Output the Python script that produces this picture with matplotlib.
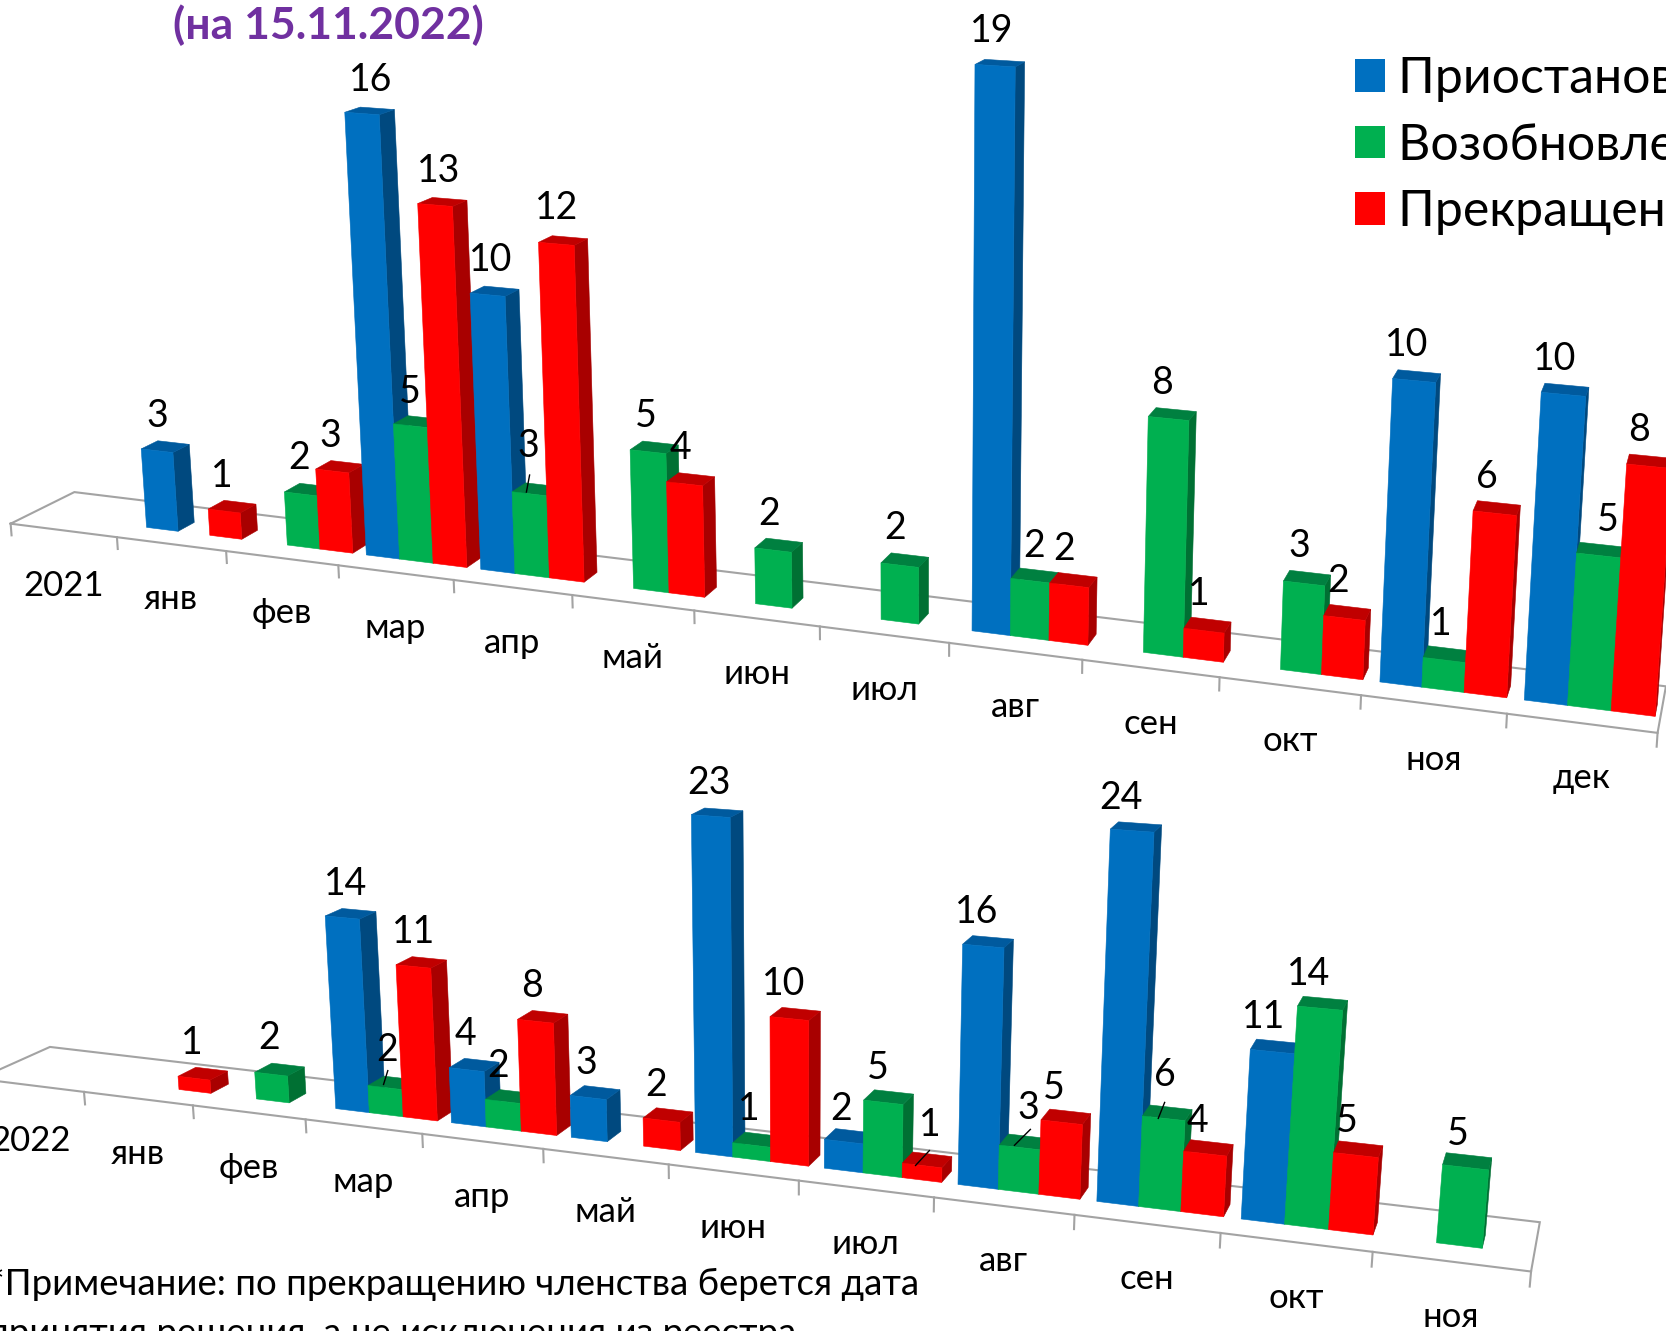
import numpy as np
import matplotlib
matplotlib.use("Agg")
import matplotlib.pyplot as plt
from matplotlib.patches import Patch

FONT = ['Lato', 'Open Sans', 'DejaVu Sans']
plt.rcParams['font.family'] = FONT

# ---------- data ----------
SERIES = ['Приостановление членства', 'Возобновление членства', 'Прекращение членства']
CATS_2021 = ['2021', 'янв', 'фев', 'мар', 'апр', 'май', 'июн', 'июл', 'авг', 'сен', 'окт', 'ноя', 'дек']
BLUE_2021 = [0, 3, 0, 16, 10, 0, 0, 0, 19, 0, 0, 10, 10]
GREEN_2021 = [0, 0, 2, 5, 3, 5, 2, 2, 2, 8, 3, 1, 5]
RED_2021 = [0, 1, 3, 13, 12, 4, 0, 0, 2, 1, 2, 6, 8]
CATS_2022 = ['2022', 'янв', 'фев', 'мар', 'апр', 'май', 'июн', 'июл', 'авг', 'сен', 'окт', 'ноя']
BLUE_2022 = [0, 0, 0, 14, 4, 3, 23, 2, 16, 24, 11, 0]
GREEN_2022 = [0, 0, 2, 2, 2, 0, 1, 5, 3, 6, 14, 5]
RED_2022 = [0, 1, 0, 11, 8, 2, 10, 1, 5, 4, 5, 0]
TITLE = '(на 15.11.2022)'
NOTE_1 = '*Примечание: по прекращению членства берется дата'
NOTE_2 = 'принятия решения, а не исключения из реестра'

# ---------- style ----------
FACE = ['#0070C0', '#00B050', '#FF0000']
SIDE = ['#00497F', '#007033', '#A80000']
TOP = ['#005A9E', '#008040', '#C00000']
GREY = '#A3A3A3'
W, H = 1568, 1253   # canvas units


class Camera:
    """Perspective projection of (category u, depth d, value z) on the canvas."""

    def __init__(self, origin, vu, a, vd, b, vz, c):
        self.o = np.array([*origin, 1.0])
        self.u = a * np.array([*vu, 1.0])
        self.d = b * np.array([*vd, 1.0])
        self.z = c * np.array([*vz, 1.0])

    def __call__(self, u, d, z):
        h = self.o + u * self.u + d * self.d + z * self.z
        return h[0] / h[2], h[1] / h[2]


def bar3d(ax, cam, u0, u1, z, k):
    d0, d1 = 0.33, 0.60
    p = lambda u, d, v: cam(u, d, v)
    faces = [
        ([p(u1, d0, 0), p(u1, d1, 0), p(u1, d1, z), p(u1, d0, z)], SIDE[k]),
        ([p(u0, d0, z), p(u1, d0, z), p(u1, d1, z), p(u0, d1, z)], TOP[k]),
        ([p(u0, d0, 0), p(u1, d0, 0), p(u1, d0, z), p(u0, d0, z)], FACE[k]),
    ]
    for pts, col in faces:
        xs, ys = zip(*pts)
        ax.fill(xs, ys, facecolor=col, edgecolor=col, linewidth=0.4)


def chart(ax, cam, cats, rows, tick_z, offsets, leaders):
    n = len(cats)
    floor = [cam(0, 0, 0), cam(n, 0, 0), cam(n, 1, 0), cam(0, 1, 0), cam(0, 0, 0)]
    xs, ys = zip(*floor)
    ax.plot(xs, ys, color=GREY, lw=1.5, solid_joinstyle='miter', zorder=1)
    for u in range(n + 1):
        (x0, y0), (x1, y1) = cam(u, 0, 0), cam(u, 0, -tick_z)
        ax.plot([x0, x1], [y0, y1], color=GREY, lw=1.5, zorder=1)
    for u, name in enumerate(cats):
        x, y = cam(u + 0.5, 0, 0)
        ax.text(x, y + 52, name, fontsize=25, ha='center', va='center', color='black')
    gap, lab_gap, slot = 0.085, 0.06, 0.88 / 3
    for u in range(n):
        for k in range(3):
            v = rows[k][u]
            if not v:
                continue
            a, b = u + gap + k * slot, u + gap + (k + 1) * slot
            bar3d(ax, cam, a, b, v, k)
    for u in range(n):
        for k in range(3):
            v = rows[k][u]
            if not v:
                continue
            a, b = u + lab_gap + k * slot, u + lab_gap + (k + 1) * slot
            fx = (cam(a, 0.385, v)[0] + cam(b, 0.385, v)[0]) / 2
            by = cam((a + b) / 2, 0.615, v)[1]
            dx, dy = offsets.get((k, u), (0, 0))
            ax.text(fx + dx, by - 24 + dy, str(v), fontsize=27, ha='center',
                    va='center', color='black', zorder=20)
            if (k, u) in leaders:
                cx, cy = cam((a + b) / 2, 0.5, v)
                bx, by2, vx, vy = leaders[(k, u)]
                ax.plot([cx + bx, cx + bx + vx], [cy + by2, cy + by2 + vy], color='black', lw=1.0, zorder=21)


cam21 = Camera((10, 493), (-7452, -455), -0.172 / 13, (1750, -370), 0.0357, (860, 11100), -0.0023)
cam22 = Camera((-20, 1015.6), (-5864, 290), -0.2 / 12, (1602, 289), 0.0431, (750, 8935), -0.001545)

fig = plt.figure(figsize=(16.66, 13.31), dpi=100)
ax = fig.add_axes([0, 0, 1, 1])
ax.set_xlim(0, W)
ax.set_ylim(H, 0)
ax.axis('off')

# label nudges: (series index, category index) -> (dx, dy)
OFF21 = {(2, 1): (-3, 0), (1, 2): (-2, -1), (2, 2): (-2, 0), (0, 3): (8, -2), (1, 3): (-1, 1), (2, 3): (3, -2),
         (0, 4): (3, -1), (1, 4): (-1, -12), (2, 4): (1, -3), (1, 5): (-2, -1), (2, 5): (-3, 0), (1, 6): (-3, 0),
         (1, 7): (-3, -1), (0, 8): (-2, -3), (1, 8): (5, 2), (2, 8): (-3, 1), (1, 9): (-4, 0), (2, 9): (-3, 1),
         (1, 10): (-2, 0), (2, 10): (-4, 1), (0, 11): (-5, 0), (1, 11): (-1, 2), (2, 11): (-5, 0),
         (0, 12): (-5, 0), (1, 12): (12, 2), (2, 12): (-6, 0)}
LEAD21 = {(1, 4): (-8, 4, 3, -16)}
OFF22 = {(2, 1): (-3, 0), (1, 2): (-3, -1), (0, 3): (3, 0), (1, 3): (2, -2), (0, 4): (-1, 0), (1, 4): (-4, 1),
         (2, 4): (-3, 0), (0, 5): (-2, 2), (2, 5): (-5, 1), (0, 6): (-1, 0), (1, 6): (-2, 1), (2, 6): (-5, 1),
         (0, 7): (-2, 4), (1, 7): (-4, 2), (2, 7): (8, -3), (0, 8): (-5, 1), (1, 8): (10, -2), (2, 8): (-6, 3),
         (0, 9): (-9, 1), (1, 9): (3, -5), (2, 9): (-5, 5), (0, 10): (-6, 2), (1, 10): (-8, 2), (2, 10): (-6, 4),
         (1, 11): (-4, 5)}
LEAD22 = {(1, 3): (-8, 3, 4, -13), (2, 7): (-9, 7, 13, -14), (1, 8): (-7, 5, 15, -15), (1, 9): (-6, 7, 6, -15)}

chart(ax, cam21, CATS_2021, [BLUE_2021, GREEN_2021, RED_2021], 0.45, OFF21, LEAD21)
chart(ax, cam22, CATS_2022, [BLUE_2022, GREEN_2022, RED_2022], 0.95, OFF22, LEAD22)

ax.text(309, 24, TITLE, fontsize=32, fontweight='bold', color='#7030A0', ha='center', va='center')
ax.text(-10, 1209, NOTE_1, fontsize=26.4, ha='left', va='center', color='black')
ax.text(-11, 1255, NOTE_2, fontsize=26.4, ha='left', va='center', color='black')

handles = [Patch(facecolor=c, edgecolor='none') for c in FACE]
ax.legend(handles, SERIES, loc='upper left', bbox_to_anchor=(1275, 53), bbox_transform=ax.transData,
          frameon=False, fontsize=36, handlelength=0.6, handleheight=0.62, handletextpad=0.26,
          labelspacing=0.41, borderpad=0, borderaxespad=0)

fig.savefig('out.png', dpi=100)
